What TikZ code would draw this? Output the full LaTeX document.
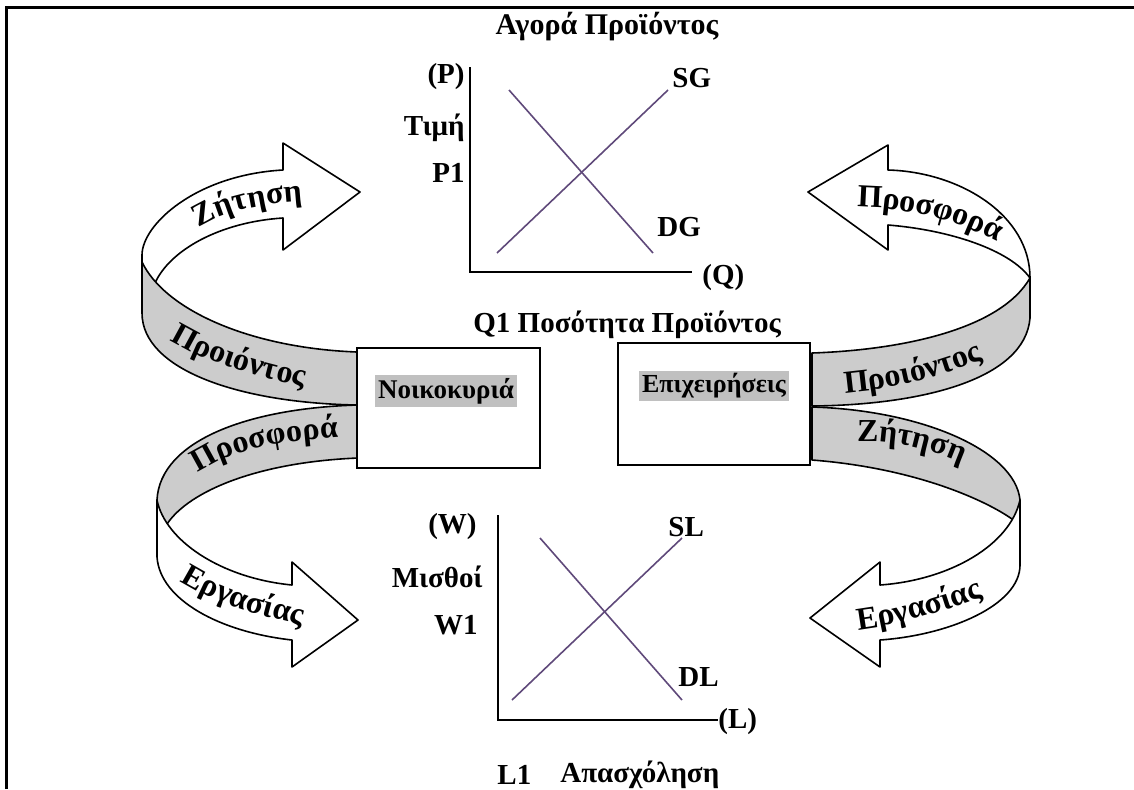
\documentclass[tikz,border=0pt]{standalone}
\usepackage{fontspec}
\setmainfont{Liberation Serif}
\usetikzlibrary{decorations.text}

\definecolor{bandgray}{RGB}{204,204,204}
\definecolor{hlgray}{RGB}{192,192,192}
\definecolor{curvepurple}{RGB}{95,73,122}
\newcommand{\ribbonfont}{\fontsize{16}{19}\selectfont\bfseries}

\tikzset{
  lbl/.style={font=\fontsize{14.5}{17}\selectfont\bfseries, inner sep=0pt},
  hlbl/.style={font=\fontsize{13}{15}\selectfont\bfseries, fill=hlgray, inner sep=1.5pt},
  band/.style={draw, line width=0.8pt, line join=round},
  agentbox/.style={draw, fill=white, line width=1pt, inner sep=0pt},
  axis/.style={line width=1pt},
  curve/.style={curvepurple, line width=0.8pt},
  ribbontext/.style={decorate, decoration={text along path, text={|\ribbonfont|#1}}}
}

\begin{document}
\begin{tikzpicture}[x=0.5pt, y=-0.5pt]
\useasboundingbox (0,0) rectangle (1134,789);

% frame
\draw[line width=1.5pt] (6,789) -- (6,7) -- (1134,7);

% top left ribbon
\filldraw[band, fill=white] (142,255) .. controls (142,225) and (195,175) .. (283,170)
  -- (283,143) -- (360,192) -- (283,250) -- (283,218)
  .. controls (220,222) and (170,250) .. (155,283) -- (142,270) -- cycle;
\filldraw[band, fill=bandgray] (142,262) .. controls (165,310) and (250,348) .. (357,352)
  -- (357,405) .. controls (240,403) and (142,370) .. (142,313) -- cycle;

% top right ribbon
\filldraw[band, fill=white] (888,170) .. controls (960,172) and (1030,215) .. (1030,278)
  .. controls (1010,250) and (950,230) .. (888,225)
  -- (888,250) -- (808,192) -- (888,145) -- cycle;
\filldraw[band, fill=bandgray] (1030,278) .. controls (1000,330) and (900,350) .. (812,353)
  -- (812,406) .. controls (920,405) and (1025,380) .. (1030,318) -- cycle;

% bottom left ribbon
\filldraw[band, fill=bandgray] (358,405) .. controls (250,408) and (160,440) .. (157,500)
  -- (157,515) -- (167,524) .. controls (190,490) and (260,462) .. (358,458) -- cycle;
\filldraw[band, fill=white] (157,500) .. controls (165,540) and (220,578) .. (292,585)
  -- (292,562) -- (358,620) -- (292,667) -- (292,640)
  .. controls (220,632) and (160,600) .. (157,557) -- cycle;

% bottom right ribbon
\filldraw[band, fill=bandgray] (812,407) .. controls (920,410) and (1015,450) .. (1020,500)
  -- (1020,515) -- (1012,519) .. controls (985,500) and (915,468) .. (812,460) -- cycle;
\filldraw[band, fill=white] (1020,500) .. controls (1010,545) and (950,580) .. (880,585)
  -- (880,562) -- (810,618) -- (880,667) -- (880,640)
  .. controls (950,635) and (1020,605) .. (1020,565) -- cycle;

% ribbon words
\path[ribbontext=Ζήτηση] (199,228) .. controls (227,210) and (265,202) .. (325,200);
\path[ribbontext=Προιόντος] (170,340) .. controls (202,360) and (252,378) .. (332,392);
\path[ribbontext=Προσφορά] (198,473) .. controls (232,450) and (282,440) .. (352,437);
\path[ribbontext=Εργασίας] (180,581) .. controls (212,601) and (252,616) .. (322,629);
\path[ribbontext=Προσφορά] (857,207) .. controls (912,208) and (962,220) .. (1012,250);
\path[ribbontext=Προιόντος] (845,393) .. controls (900,388) and (950,375) .. (1000,352);
\path[ribbontext=Ζήτηση] (857,442) .. controls (892,440) and (932,448) .. (977,470);
\path[ribbontext=Εργασίας] (858,630) .. controls (900,625) and (950,610) .. (1000,590);

% households and firms
\node[agentbox, minimum width=91.5pt, minimum height=60pt] (house) at (448.5,408) {};
\node[hlbl, font=\fontsize{13.5}{15}\selectfont\bfseries] (houselbl) at (446,391) {Νοικοκυριά};
\node[agentbox, minimum width=96pt, minimum height=61pt] (firm) at (714,404) {};
\node[hlbl] (firmlbl) at (714,386) {Επιχειρήσεις};

% goods market
\node[lbl, font=\fontsize{15}{17}\selectfont\bfseries] (gtitle) at (607,27) {Αγορά Προϊόντος};
\coordinate (go) at (470,272);
\draw[axis] (470,67) -- (go) -- (692,272);
\draw[curve] (497,253) -- (668,90);
\draw[curve] (509,90) -- (653,253);
\node[lbl, anchor=east] (pax) at (465,77) {(P)};
\node[lbl, anchor=east] (price) at (465,128) {Τιμή};
\node[lbl, anchor=east] (p1) at (465,173) {P1};
\node[lbl, anchor=west] (sg) at (672,78) {SG};
\node[lbl, anchor=west] (dg) at (657,227) {DG};
\node[lbl, anchor=west] (qax) at (702,278) {(Q)};
\node[lbl, anchor=west] (qlbl) at (473,325) {Q1 Ποσότητα Προϊόντος};

% labour market
\coordinate (lo) at (498,720);
\draw[axis] (498,515) -- (lo) -- (718,720);
\draw[curve] (512,700) -- (682,538);
\draw[curve] (540,538) -- (682,700);
\node[lbl, anchor=east] (wax) at (477,527) {(W)};
\node[lbl, anchor=east] (wage) at (483,577) {Μισθοί};
\node[lbl, anchor=east] (w1) at (478,625) {W1};
\node[lbl, anchor=west] (sl) at (668,527) {SL};
\node[lbl, anchor=west] (dl) at (678,677) {DL};
\node[lbl, anchor=west] (lax) at (718,722) {(L)};
\node[lbl, anchor=west] (l1) at (497,775) {L1};
\node[lbl, anchor=west] (employ) at (560,775) {Απασχόληση};
\end{tikzpicture}
\end{document}
